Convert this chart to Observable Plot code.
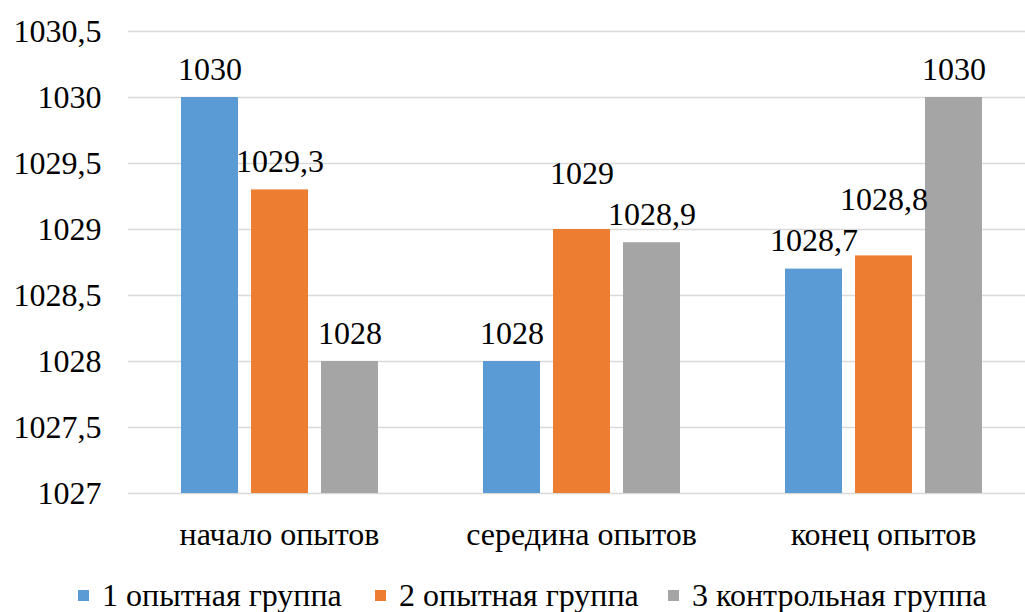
<!DOCTYPE html>
<html><head><meta charset="utf-8">
<script src="https://cdn.jsdelivr.net/npm/d3@7"></script>
<script src="https://cdn.jsdelivr.net/npm/@observablehq/plot@0.6"></script>
<style>
body{margin:0;background:#fff;font-family:'Liberation Serif','DejaVu Serif',serif;}
#wrap{position:relative;width:1025px;height:612px;overflow:hidden;}
#legend{position:absolute;left:0;top:577px;width:1025px;height:36px;font-size:32px;color:#000;}
#legend .it{position:absolute;top:0;display:flex;align-items:center;white-space:nowrap}
#legend .sw{width:11px;height:11px;margin-right:13px;display:inline-block}
</style></head>
<body><div id="wrap"><div id="chart"></div><div id="legend"></div></div>
<script>
const categories = ["начало опытов", "середина опытов", "конец опытов"];
const groups = ["1 опытная группа", "2 опытная группа", "3 контрольная группа"];
const group1 = [1030, 1028, 1028.7];
const group2 = [1029.3, 1029, 1028.8];
const group3 = [1028, 1028.9, 1030];
const yTicks = [1027, 1027.5, 1028, 1028.5, 1029, 1029.5, 1030, 1030.5];
const colors = ["#5B9BD5", "#ED7D31", "#A5A5A5"];

const series = [group1, group2, group3];
const data = [];
categories.forEach((c, i) => groups.forEach((g, j) => data.push({cat: c, group: g, value: series[j][i], gi: j, ci: i})));
const fmt = v => String(v).replace(".", ",");
// labels that the source chart lifted higher above their bars
const raised = d => d.gi === 1 && d.ci > 0;

const chart = Plot.plot({
  width: 1025, height: 565,
  marginTop: 31, marginBottom: 72, marginLeft: 128, marginRight: -9,
  style: {fontFamily: "'Liberation Serif', 'DejaVu Serif', serif", fontSize: "32px", color: "#000", background: "#fff"},
  fx: {domain: categories, padding: 0, label: null},
  x: {domain: groups, paddingInner: 0.19, paddingOuter: 0.75, axis: null},
  y: {domain: [1027, 1030.5], label: null, axis: null},
  color: {domain: groups, range: colors},
  marks: [
    Plot.ruleY(yTicks, {stroke: "#d9d9d9", strokeWidth: 1.5, facet: "exclude"}),
    Plot.axisY(yTicks, {tickSize: 0, tickPadding: 0, dx: -27, tickFormat: fmt, label: null, fontSize: 32}),
    Plot.axisFx({anchor: "bottom", tickSize: 0, tickPadding: 29, label: null, fontSize: 32}),
    Plot.barY(data, {fx: "cat", x: "group", y1: 1027, y2: "value", fill: "group"}),
    Plot.text(data.filter(d => !raised(d)), {fx: "cat", x: "group", y: "value", text: d => fmt(d.value), dy: -28, lineAnchor: "middle", fontSize: 32, fill: "#000"}),
    Plot.text(data.filter(raised), {fx: "cat", x: "group", y: "value", text: d => fmt(d.value), dy: -56, lineAnchor: "middle", fontSize: 32, fill: "#000"})
  ]
});
document.getElementById("chart").appendChild(chart);

const lg = document.getElementById("legend");
const legendLeft = [78, 375, 668];
groups.forEach((g, j) => {
  const it = document.createElement("div"); it.className = "it"; it.style.left = legendLeft[j] + "px";
  const sw = document.createElement("span"); sw.className = "sw"; sw.style.background = colors[j];
  it.appendChild(sw); it.appendChild(document.createTextNode(g));
  lg.appendChild(it);
});
</script></body></html>
